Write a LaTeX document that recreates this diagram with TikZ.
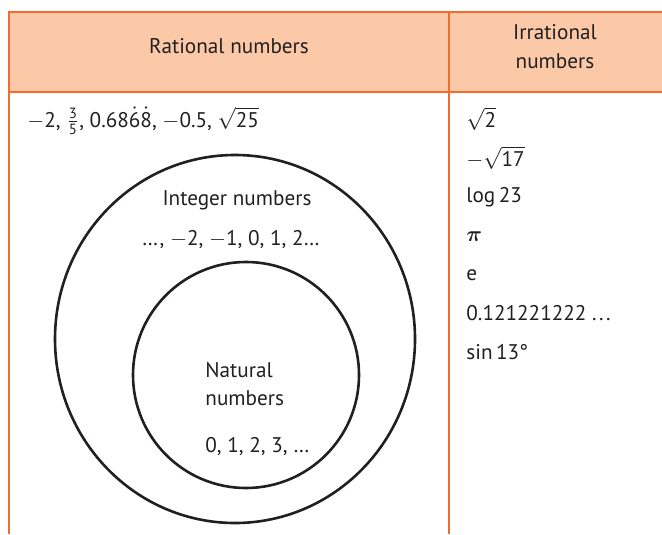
\documentclass[tikz,border=0pt]{standalone}
\usepackage{amsmath,amssymb,bm}
\usepackage{fontspec}
\setmainfont{PT Sans}
\usepackage{tikz}
\usetikzlibrary{positioning}
\definecolor{rim}{HTML}{F26D2D}
\definecolor{head}{HTML}{FBC9A7}
\definecolor{ink}{HTML}{231F20}

\begin{document}
\begin{tikzpicture}[x=0.5pt,y=-0.5pt,font=\fontsize{10.6}{12.6}\selectfont,text=ink]
  \tikzset{
    cell/.style={inner sep=0pt,anchor=west},
    ring/.style={ink,line width=1.3pt}
  }
  \useasboundingbox (0,0) rectangle (662,534);

  % Header band
  \fill[head] (9,12) rectangle (662,92);
  \draw[rim,line width=1pt] (662,12) -- (9,12) -- (9,534);
  \draw[rim,line width=1pt] (9,92) -- (662,92);
  \draw[rim,line width=1pt] (449,12) -- (449,534);
  \node (rathead) at (229,46) {Rational numbers};
  \node[align=center] (irrhead) at (555,47) {Irrational\\[2pt]numbers};

  % Rational column
  \node[cell] (ratlist) at (27,121) {$-$2, $\tfrac{\text{3}}{\text{5}}$, 0.68$\dot{\text{6}}\dot{\text{8}}$, $-$0.5, $\sqrt{\text{25}}$};
  \draw[ring] (235,339) ellipse (180 and 184);
  \draw[ring] (246,375) ellipse (113 and 113);
  \node (intname) at (237,200) {Integer numbers};
  \node (intlist) at (231,240) {\dots, $-$2, $-$1, 0, 1, 2\dots};
  \node[cell,align=left] (natname) at (205,384) {Natural\\[1pt]numbers};
  \node[cell] (natlist) at (205,447) {0, 1, 2, 3, \dots};

  % Irrational column
  \node[cell] (irr1) at (466,119) {$\sqrt{\text{2}}$};
  \node[cell] (irr2) at (466,158) {$-\sqrt{\text{17}}$};
  \node[cell] (irr3) at (466,197) {log\,23};
  \node[cell] (irr4) at (466,237) {$\bm{\pi}$};
  \node[cell] (irr5) at (466,275) {e};
  \node[cell] (irr6) at (466,313) {0.121221222 .\kern1.2pt.\kern1.2pt.};
  \node[cell] (irr7) at (466,352) {sin\,13°};
\end{tikzpicture}
\end{document}
